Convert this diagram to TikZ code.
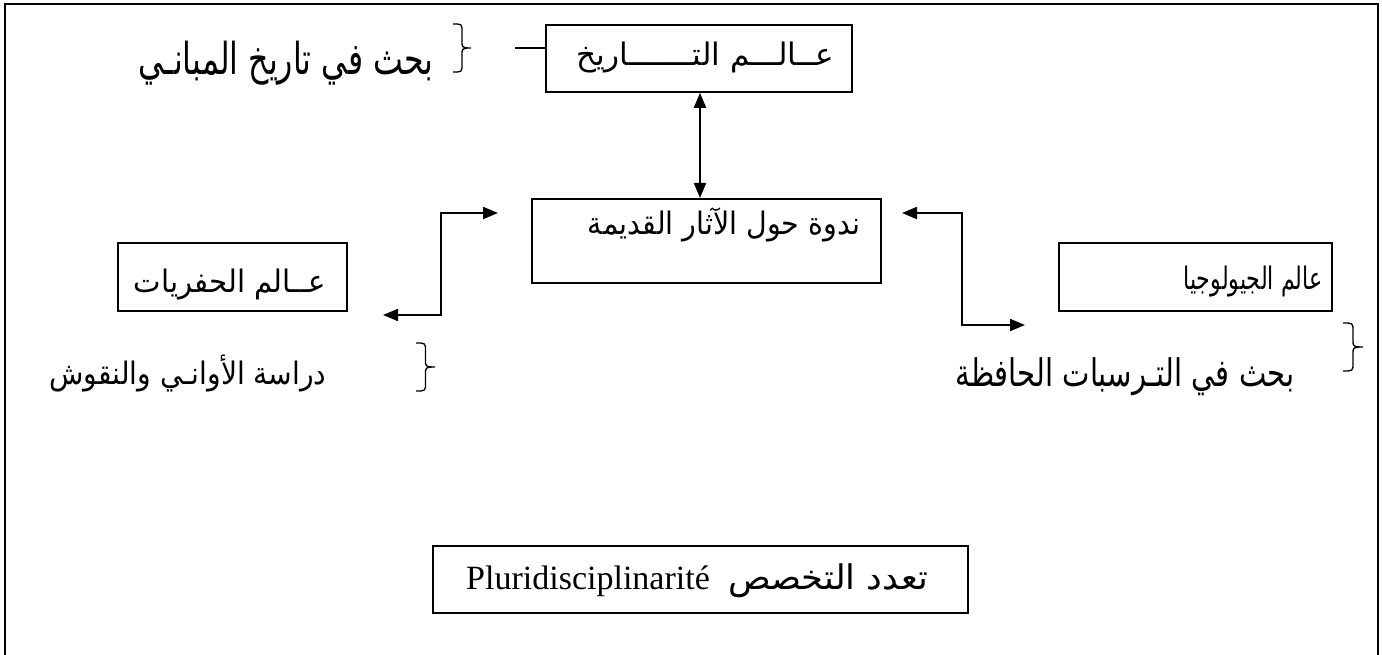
\documentclass[tikz,border=0pt]{standalone}
\usepackage{graphicx}
\usepackage{fontspec}
\setmainfont{Liberation Serif}
\newfontfamily\arabicfont[Script=Arabic]{DejaVu Sans}
\TeXXeTstate=1
\usetikzlibrary{arrows.meta}
% Arabic text at a given size, stretched to a given width
\newcommand{\fitar}[3]{\resizebox{#1}{\height}{\arabicfont\fontsize{#2}{#2}\selectfont #3}}
% a thin closing brace: left x, right x, top y, bottom y
\newcommand{\notebrace}[4]{%
  \pgfmathsetmacro{\bs}{(#1+#2)/2}%
  \pgfmathsetmacro{\bm}{(#3+#4)/2}%
  \draw[bracepen] (#1,#3) .. controls (\bs,#3) and (\bs,#3) .. (\bs,#3+8)
    -- (\bs,\bm-6) .. controls (\bs,\bm-1) and (\bs,\bm) .. (#2,\bm)
    .. controls (\bs,\bm) and (\bs,\bm+1) .. (\bs,\bm+6)
    -- (\bs,#4-8) .. controls (\bs,#4) and (\bs,#4) .. (#1,#4);}
\tikzset{
  box/.style={draw, line width=1.8pt, inner sep=0pt, anchor=north west},
  txt/.style={inner sep=0pt, anchor=base},
  bracepen/.style={line width=1.3pt},
  dbl/.style={line width=2pt, {Triangle[length=15pt,width=12pt]}-{Triangle[length=15pt,width=12pt]}},
  plain/.style={line width=1.6pt}
}
\begin{document}
\begin{tikzpicture}[x=1pt,y=-1pt]
\useasboundingbox (0,0) rectangle (1382,655);
% page frame, open at the bottom
\draw[line width=2.2pt] (5,655) -- (5,4) -- (1378,4) -- (1378,655);

% boxes
\node[box, minimum width=306, minimum height=67] (hist) at (545,24) {};
\node[box, minimum width=349, minimum height=84] (mid) at (531,198) {};
\node[box, minimum width=229, minimum height=68] (dig) at (117,242) {};
\node[box, minimum width=273, minimum height=68] (geo) at (1058,242) {};
\node[box, minimum width=535, minimum height=67] (plur) at (432,545) {};

% box texts
\node[txt] (histT) at (705,66) {\fitar{258pt}{31}{\beginR عــالـــم التـــــــاريخ\endR}};
\node[txt] (midT) at (724,235) {\fitar{272pt}{31}{\beginR ندوة حول الآثار القديمة\endR}};
\node[txt] (digT) at (230,292) {\fitar{192pt}{31}{\beginR عــالم الحفريات\endR}};
\node[txt] (geoT) at (1253,290) {\fitar{139pt}{31}{\beginR عالم الجيولوجيا\endR}};
\node[txt] (plurA) at (828,589) {\fitar{200pt}{34}{\beginR تعدد التخصص\endR}};
\node[txt, anchor=base west, font=\fontsize{34}{40}\selectfont] (plurL) at (466,589) {Pluridisciplinarité};

% side notes
\node[txt] (histN) at (286,75) {\fitar{295pt}{44}{\beginR بحث في تاريخ المبانـي\endR}};
\node[txt] (digN) at (188,384) {\fitar{277pt}{31}{\beginR دراسة الأوانـي والنقوش\endR}};
\node[txt] (geoN) at (1125,386) {\fitar{339pt}{38}{\beginR بحث في التـرسبات الحافظة\endR}};

% braces
\notebrace{453}{471}{24}{72}
\notebrace{1343}{1363}{323}{371}
\notebrace{416}{435}{343}{391}

% connectors
\coordinate (hl) at (515,48);
\draw[plain] (hl) -- (hl -| hist.west);
\coordinate (vx) at (700,0);
\draw[dbl] (hist.south -| vx) -- (mid.north -| vx);
\coordinate (la) at (498,213);
\coordinate (lb) at (383,315);
\draw[dbl] (la) -- (441,213) |- (lb);
\coordinate (ra) at (902,213);
\coordinate (rb) at (1025,325);
\draw[dbl] (ra) -- (962,213) |- (rb);
\end{tikzpicture}
\end{document}
